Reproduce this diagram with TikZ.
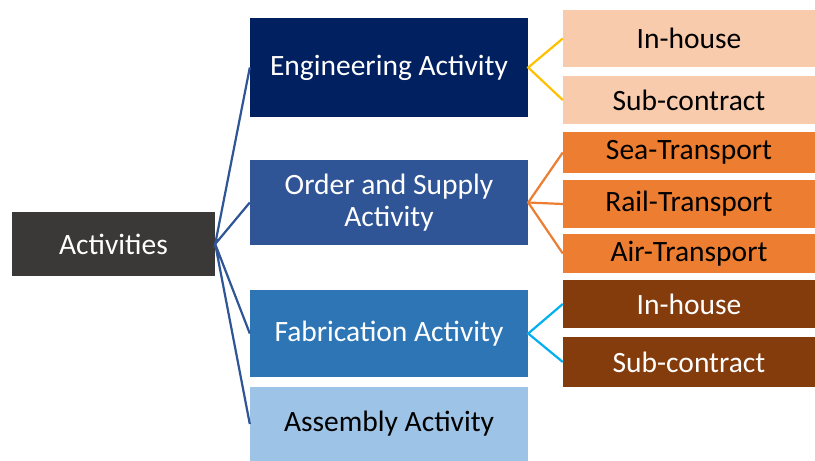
\documentclass[tikz,border=0pt]{standalone}
\usepackage{xcolor}
\usepackage{fontspec}
\setmainfont{Carlito}
\usetikzlibrary{positioning}
\definecolor{actgray}{HTML}{3B3838}
\definecolor{engblue}{HTML}{002060}
\definecolor{ordblue}{HTML}{2F5597}
\definecolor{fabblue}{HTML}{2E75B6}
\definecolor{asmblue}{HTML}{9DC3E6}
\definecolor{peach}{HTML}{F8CBAD}
\definecolor{orng}{HTML}{ED7D31}
\definecolor{brwn}{HTML}{843C0C}
\definecolor{yel}{HTML}{FFC000}
\definecolor{cyn}{HTML}{00B0F0}
\tikzset{
  box/.style={inner sep=0pt, align=center, font=\fontsize{29.5}{32}\selectfont},
  mid/.style={box, minimum width=278pt},
  sub/.style={box, minimum width=252pt},
  link/.style={line width=2.2pt}
}

\begin{document}
\begin{tikzpicture}[x=1pt, y=-1pt]
        \useasboundingbox[fill=white] (0,0) rectangle (815,461);
        \node[box, fill=actgray, text=white, minimum width=203pt, minimum height=64pt] (ACT) at (113.5,244) {Activities};
        \node[mid, fill=engblue, text=white, minimum height=99pt] (ENG) at (389,67.5) {Engineering Activity};
        \node[mid, fill=ordblue, text=white, minimum height=85pt] (ORD) at (389,202.5) {Order and Supply\\Activity};
        \node[mid, fill=fabblue, text=white, minimum height=87pt] (FAB) at (389,333.5) {Fabrication Activity};
        \node[mid, fill=asmblue, text=black, minimum height=74pt] (ASM) at (389,424) {Assembly Activity};
        \node[sub, fill=peach, minimum height=57pt] (EIH) at (689,38.5) {In-house};
        \node[sub, fill=peach, minimum height=48pt] (ESC) at (689,100) {Sub-contract};
        \node[sub, fill=orng, minimum height=41pt] (SEA) at (689,152.5) {Sea-Transport};
        \node[sub, fill=orng, minimum height=48pt] (RAIL) at (689,204) {Rail-Transport};
        \node[sub, fill=orng, minimum height=39pt] (AIR) at (689,253.5) {Air-Transport};
        \node[sub, fill=brwn, text=white, minimum height=48pt] (FIH) at (689,304) {In-house};
        \node[sub, fill=brwn, text=white, minimum height=50pt] (FSC) at (689,362) {Sub-contract};
        \draw[link, ordblue] (ENG.west) -- (ACT.east) -- (ORD.west);
        \draw[link, ordblue] (FAB.west) -- (ACT.east) -- (ASM.west);
        \draw[link, yel] (EIH.west) -- (ENG.east) -- (ESC.west);
        \draw[link, orng] (SEA.west) -- (ORD.east) -- (AIR.west);
        \draw[link, orng] (ORD.east) -- (RAIL.west);
        \draw[link, cyn] (FIH.west) -- (FAB.east) -- (FSC.west);
    \end{tikzpicture}
\end{document}
